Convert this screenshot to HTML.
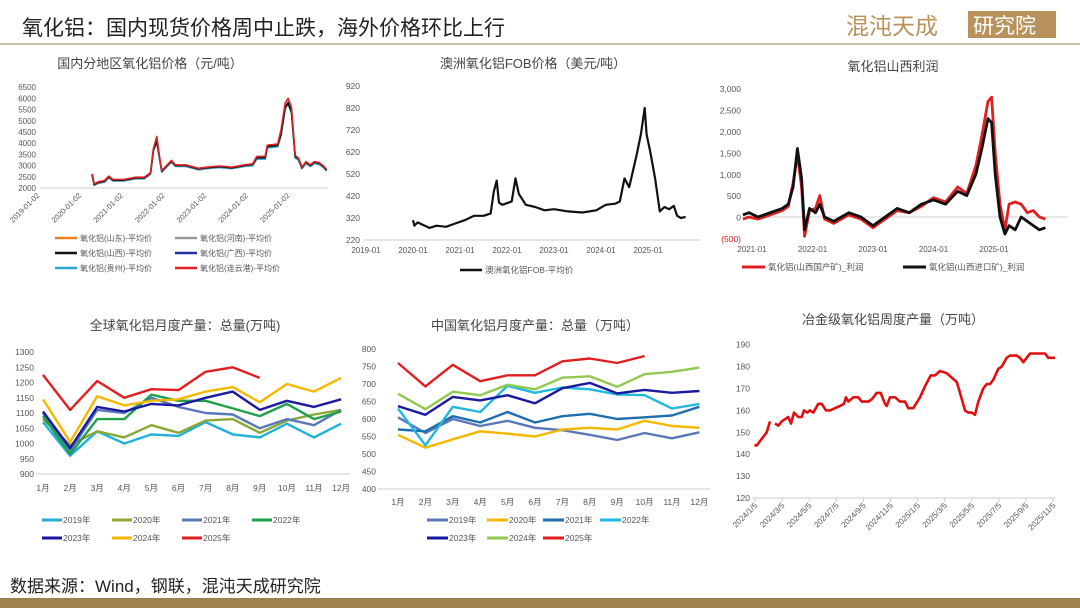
<!DOCTYPE html>
<html><head><meta charset="utf-8"><style>
body{margin:0;width:1080px;height:608px;overflow:hidden;background:#fff;font-family:"Liberation Sans","Noto Sans CJK SC",sans-serif}
svg{position:absolute;left:0;top:0}
text{font-family:"Liberation Sans","Noto Sans CJK SC",sans-serif}
</style></head><body>
<svg id="s" width="1080" height="608" viewBox="0 0 1080 608">
<text x="22" y="35" font-size="21" fill="#222">氧化铝：国内现货价格周中止跌，海外价格环比上行</text>
<text x="846" y="34" font-size="23" fill="#b8925a">混沌天成</text>
<rect x="968" y="11" width="88" height="27" fill="#b8925a"/>
<text x="973" y="33" font-size="21" fill="#fff">研究院</text>
<line x1="0" y1="44" x2="1080" y2="44" stroke="#b9ad90" stroke-width="1.5"/>
<text x="10" y="592" font-size="17" fill="#222">数据来源：Wind，钢联，混沌天成研究院</text>
<rect x="0" y="598" width="1080" height="10" fill="#a0804e"/>
</svg>
<script>
const S=document.getElementById('s'),NS='http://www.w3.org/2000/svg';
function el(t,a,txt){const e=document.createElementNS(NS,t);for(const k in a)e.setAttribute(k,a[k]);if(txt!=null)e.textContent=txt;S.appendChild(e);return e;}
function txt(x,y,s,o){return el('text',Object.assign({x:x,y:y,'font-size':9,fill:'#555'},o||{}),s);}
function line(pts,c,w){el('polyline',{points:pts.map(p=>p[0].toFixed(1)+','+p[1].toFixed(1)).join(' '),fill:'none',stroke:c,'stroke-width':w||2,'stroke-linejoin':'round'});}
function title(x,y,s){txt(x,y,s,{'font-size':13,fill:'#444','text-anchor':'middle'});}
// Chart1
title(150,68,'国内分地区氧化铝价格（元/吨）');
for(let i=0;i<10;i++){txt(36,191-i*11.2,String(2000+i*500),{'text-anchor':'end','font-size':8});}
el('line',{x1:40,y1:188,x2:328,y2:188,stroke:'#ccc'});
for(let i=0;i<7;i++){const x=40+i*41.7;txt(x,196,(2019+i)+'-01-02',{'text-anchor':'end','font-size':7.5,transform:`rotate(-45 ${x} 196)`});}
const c1=[[2020.25,2600],[2020.3,2150],[2020.4,2250],[2020.55,2300],[2020.65,2500],[2020.75,2350],[2021,2350],[2021.3,2450],[2021.5,2450],[2021.65,2650],[2021.72,3700],[2021.8,4100],[2021.87,3300],[2021.92,2750],[2022.05,3000],[2022.15,3200],[2022.25,3000],[2022.5,3000],[2022.8,2850],[2023,2900],[2023.3,2950],[2023.6,2900],[2023.9,3000],[2024.1,3050],[2024.2,3350],[2024.4,3350],[2024.45,3850],[2024.7,3900],[2024.78,4400],[2024.88,5600],[2024.95,5800],[2025.03,5400],[2025.12,3400],[2025.2,3300],[2025.28,2900],[2025.38,3150],[2025.48,3000],[2025.58,3150],[2025.7,3100],[2025.8,2950],[2025.87,2800]];
const m1=(d,dv)=>d.map(p=>[40+(p[0]-2019)*41.7,188-(p[1]+dv(p)-2000)/500*11.2]);
line(m1(c1,p=>-40),'#999',1.6);line(m1(c1,p=>-20),'#f08020',1.6);line(m1(c1,p=>p[1]>3000?-60:-30),'#28a8d8',1.6);line(m1(c1,p=>20),'#2030a0',1.6);line(m1(c1,p=>0),'#111',1.6);line(m1(c1,p=>p[1]>4000?200:(p[1]>3300?60:30)),'#e02020',1.6);
const L1=[['#f08020','氧化铝(山东)-平均价',52,241],['#999','氧化铝(河南)-平均价',172,241],['#111','氧化铝(山西)-平均价',52,256],['#2030a0','氧化铝(广西)-平均价',172,256],['#28a8d8','氧化铝(贵州)-平均价',52,271],['#e02020','氧化铝(连云港)-平均价',172,271]];
L1.forEach(l=>{el('line',{x1:l[2]+3,y1:l[3]-3,x2:l[2]+25,y2:l[3]-3,stroke:l[0],'stroke-width':2.5});txt(l[2]+28,l[3],l[1],{'font-size':8});});
// Chart2
title(533,68,'澳洲氧化铝FOB价格（美元/吨）');
for(let i=0;i<8;i++){txt(360,243-i*22,String(220+i*100),{'text-anchor':'end','font-size':8.5});}
el('line',{x1:364,y1:240,x2:700,y2:240,stroke:'#ccc'});
for(let i=0;i<7;i++){txt(366+i*47,253,(2019+i)+'-01',{'text-anchor':'middle','font-size':8});}
const c2=[[2020.0,310],[2020.03,285],[2020.1,300],[2020.2,290],[2020.35,275],[2020.5,285],[2020.7,280],[2020.9,295],[2021.1,310],[2021.3,330],[2021.5,330],[2021.65,340],[2021.72,440],[2021.78,490],[2021.83,390],[2021.9,380],[2022.1,395],[2022.18,500],[2022.25,430],[2022.4,380],[2022.6,370],[2022.8,355],[2023.0,360],[2023.3,350],[2023.6,345],[2023.9,355],[2024.1,380],[2024.3,385],[2024.4,395],[2024.5,500],[2024.6,460],[2024.75,600],[2024.85,700],[2024.93,820],[2024.97,700],[2025.05,620],[2025.15,500],[2025.25,350],[2025.35,370],[2025.45,360],[2025.55,375],[2025.62,330],[2025.7,320],[2025.8,325]];
line(c2.map(p=>[366+(p[0]-2019)*47,240-(p[1]-220)*0.22]),'#111',2.2);
el('line',{x1:460,y1:270,x2:482,y2:270,stroke:'#111','stroke-width':2.5});txt(485,273,'澳洲氧化铝FOB-平均价',{'font-size':8.5});
// Chart3
title(893,71,'氧化铝山西利润');
const yl3=['(500)','0','500','1,000','1,500','2,000','2,500','3,000'];
yl3.forEach((s,i)=>txt(741,242-i*21.4,s,{'text-anchor':'end','font-size':8.5,fill:i==0?'#d02020':'#555'}));
el('line',{x1:745,y1:217,x2:1068,y2:217,stroke:'#ccc'});
for(let i=0;i<5;i++){txt(752+i*60.5,252,(2021+i)+'-01',{'text-anchor':'middle','font-size':8});}
const b3=[[2020.85,50],[2020.95,100],[2021.1,0],[2021.3,100],[2021.5,200],[2021.6,300],[2021.68,700],[2021.75,1600],[2021.82,900],[2021.87,-300],[2021.95,200],[2022.05,100],[2022.12,300],[2022.2,0],[2022.35,-100],[2022.6,100],[2022.8,0],[2023.0,-200],[2023.2,0],[2023.4,200],[2023.6,100],[2023.8,300],[2024.0,400],[2024.2,300],[2024.4,600],[2024.55,500],[2024.7,1000],[2024.8,1600],[2024.9,2300],[2024.96,2200],[2025.02,1000],[2025.1,0],[2025.18,-400],[2025.25,-200],[2025.35,-300],[2025.45,0],[2025.55,-100],[2025.65,-200],[2025.75,-300],[2025.85,-250]];
const r3=[[2020.85,-50],[2020.95,0],[2021.1,-50],[2021.3,50],[2021.5,150],[2021.6,250],[2021.68,800],[2021.75,1450],[2021.82,700],[2021.87,-450],[2021.95,150],[2022.05,200],[2022.12,500],[2022.2,-50],[2022.35,-150],[2022.6,50],[2022.8,-50],[2023.0,-250],[2023.2,-50],[2023.4,150],[2023.6,100],[2023.8,250],[2024.0,450],[2024.2,350],[2024.4,700],[2024.55,550],[2024.7,1200],[2024.8,1900],[2024.9,2700],[2024.96,2800],[2025.02,1500],[2025.1,300],[2025.18,-300],[2025.25,300],[2025.35,350],[2025.45,300],[2025.55,100],[2025.65,150],[2025.75,0],[2025.85,-50]];
const m3=d=>d.map(p=>[752+(p[0]-2021)*60.5,217-p[1]*0.0428]);
line(m3(r3),'#e02020',2.8);line(m3(b3),'#111',2.8);
el('line',{x1:742,y1:267,x2:765,y2:267,stroke:'#e02020','stroke-width':3});txt(768,270,'氧化铝(山西国产矿)_利润',{'font-size':8.5});
el('line',{x1:903,y1:267,x2:926,y2:267,stroke:'#111','stroke-width':3});txt(929,270,'氧化铝(山西进口矿)_利润',{'font-size':8.5});
// Chart4
title(185,330,'全球氧化铝月度产量：总量(万吨)');
for(let i=0;i<9;i++)txt(34,477-i*15.25,String(900+i*50),{'text-anchor':'end','font-size':8.5});
el('line',{x1:36,y1:474,x2:350,y2:474,stroke:'#ccc'});
for(let i=0;i<12;i++)txt(43+i*27.1,491,(i+1)+'月',{'text-anchor':'middle','font-size':8.5});
const d4=[['2019年','#20b0d8',[1070,960,1040,1000,1030,1025,1070,1030,1020,1065,1020,1065]],['2020年','#8aa838',[1080,995,1040,1020,1060,1035,1075,1080,1035,1075,1095,1110]],['2021年','#5a78b8',[1100,975,1110,1100,1150,1120,1100,1095,1050,1080,1060,1110]],['2022年','#20a048',[1090,965,1080,1080,1160,1140,1140,1115,1090,1130,1080,1105]],['2023年','#1a1aa0',[1105,985,1120,1105,1130,1125,1150,1170,1110,1140,1120,1145]],['2024年','#f5b800',[1145,1005,1155,1125,1140,1145,1170,1185,1135,1195,1170,1215]],['2025年','#e02020',[1225,1110,1205,1150,1178,1175,1235,1250,1215]]];
d4.forEach((s,k)=>{line(s[2].map((v,i)=>[43+i*27.1,474-(v-900)*0.305]),s[1],2.4);const x=(k%4)*70+42,y=k<4?523:541;el('line',{x1:x,y1:y-3,x2:x+20,y2:y-3,stroke:s[1],'stroke-width':3});txt(x+21,y,s[0],{'font-size':8.5});});
// Chart5
title(535,330,'中国氧化铝月度产量：总量（万吨）');
for(let i=0;i<9;i++)txt(376,492-i*17.5,String(400+i*50),{'text-anchor':'end','font-size':8.5});
el('line',{x1:378,y1:489,x2:710,y2:489,stroke:'#ccc'});
for(let i=0;i<12;i++)txt(398+i*27.4,505,(i+1)+'月',{'text-anchor':'middle','font-size':8.5});
const d5=[['2019年','#5a78b8',[605,560,600,580,595,575,568,555,540,560,545,562]],['2020年','#f5b800',[555,518,542,565,558,550,570,575,570,595,580,575]],['2021年','#1f6fb0',[570,565,608,590,620,590,608,615,600,605,610,635]],['2022年','#20b8e0',[630,525,635,620,695,675,690,685,670,668,630,643]],['2023年','#1a1aa0',[637,612,663,653,668,645,688,703,673,683,675,680]],['2024年','#90c850',[672,628,678,668,698,685,718,722,692,728,735,747]],['2025年','#e02020',[760,693,755,708,725,725,765,773,760,780]]];
d5.forEach((s,k)=>{line(s[2].map((v,i)=>[398+i*27.4,489-(v-400)*0.35]),s[1],2.4);const x=[427,487,543,600][k%4],y=k<4?523:541;el('line',{x1:x,y1:y-3,x2:x+21,y2:y-3,stroke:s[1],'stroke-width':3});txt(x+22,y,s[0],{'font-size':8.5});});
// Chart6
title(893,324,'冶金级氧化铝周度产量（万吨）');
for(let i=0;i<8;i++)txt(750,501-i*21.9,String(120+i*10),{'text-anchor':'end','font-size':8.5});
el('line',{x1:752,y1:498,x2:1056,y2:498,stroke:'#ccc'});
const xl=['2024/1/5','2024/3/5','2024/5/5','2024/7/5','2024/9/5','2024/11/5','2025/1/5','2025/3/5','2025/5/5','2025/7/5','2025/9/5','2025/11/5'];
xl.forEach((s,i)=>{const x=755+i*27.1;el('line',{x1:x,y1:498,x2:x,y2:502,stroke:'#ccc'});txt(x+3,506,s,{'text-anchor':'end','font-size':8,transform:`rotate(-45 ${x+3} 506)`});});
const z=[[103,144],[110,144],[125,147],[140,150],[150,155],null,[165,154],[175,153],[185,155],[205,157],[213,154],[222,159],[235,157],[245,157],[252,160],[262,159],[270,160],[280,159],[295,163],[305,163],[318,160],[330,160],[345,161],[360,162],[372,163],[378,166],[385,164],[400,166],[415,166],[425,164],[445,164],[455,165],[470,168],[482,168],[495,163],[500,162],[510,166],[525,166],[540,164],[555,164],[565,161],[580,161],[600,166],[615,171],[632,176],[645,176],[660,178],[680,177],[695,175],[710,173],[720,168],[735,160],[745,159],[755,159],[765,158],[775,164],[790,170],[800,172],[810,172],[820,174],[835,179],[845,180],[860,184],[870,185],[890,185],[900,184],[910,182],[920,184],[930,186],[945,186],[955,186],[975,186],[985,184],[1005,184]];
const mz=p=>[p[0]/3+720,498-(p[1]-120)*2.19];
const i0=z.indexOf(null);line(z.slice(0,i0).map(mz),'#e01010',2.6);line(z.slice(i0+1).map(mz),'#e01010',2.6);
</script>
</body></html>
